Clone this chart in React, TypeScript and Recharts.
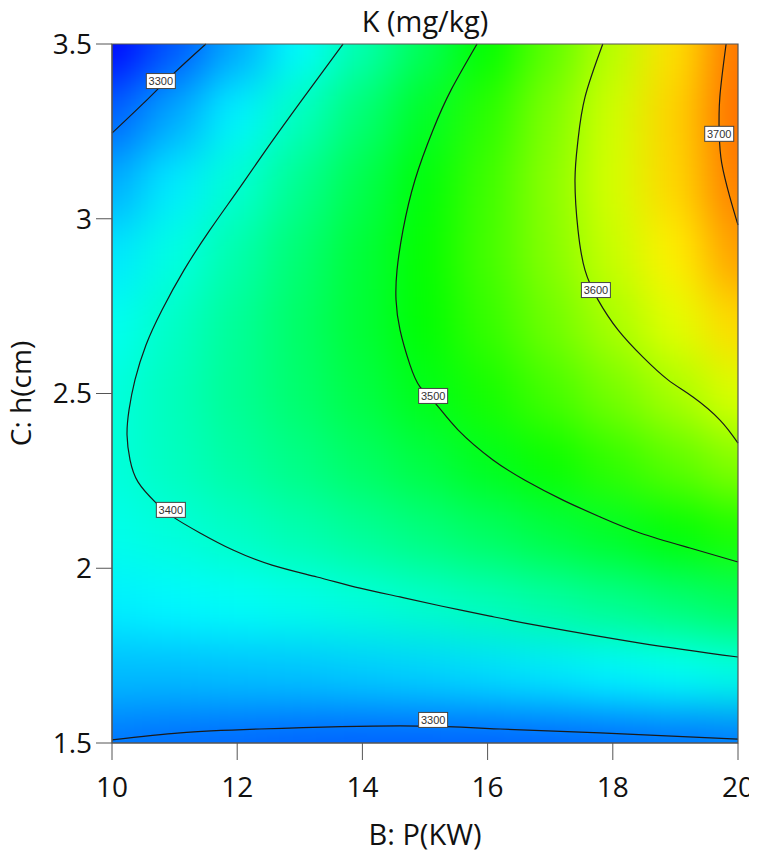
import React from "react";
import {
  ComposedChart,
  Line,
  ReferenceArea,
  ReferenceDot,
  Scatter,
  XAxis,
  YAxis,
} from "recharts";

const FONT = "'Open Sans', 'Noto Sans', sans-serif";

// grid of the colour field: B (kW) columns, C (cm) rows
const pLevels = [10, 11, 12, 13, 14, 15, 16, 17, 18, 19, 20];
const hLevels = [1.5, 1.7, 1.9, 2.1, 2.3, 2.5, 2.7, 2.9, 3.1, 3.3, 3.5];

// K (mg/kg), one row per hLevel
const kAt150 = [3298, 3294, 3291, 3288, 3287, 3287, 3288, 3289, 3292, 3296, 3300];
const kAt170 = [3336, 3336, 3338, 3340, 3344, 3348, 3354, 3360, 3367, 3376, 3385];
const kAt190 = [3364, 3369, 3376, 3383, 3391, 3400, 3410, 3421, 3433, 3446, 3460];
const kAt210 = [3383, 3392, 3403, 3415, 3428, 3442, 3457, 3473, 3489, 3507, 3525];
const kAt230 = [3391, 3406, 3422, 3438, 3456, 3474, 3494, 3514, 3536, 3558, 3581];
const kAt250 = [3390, 3409, 3430, 3451, 3473, 3497, 3521, 3546, 3572, 3599, 3627];
const kAt270 = [3379, 3403, 3428, 3454, 3481, 3509, 3538, 3568, 3599, 3630, 3663];
const kAt290 = [3359, 3387, 3417, 3448, 3479, 3512, 3546, 3580, 3616, 3652, 3690];
const kAt310 = [3328, 3362, 3396, 3432, 3468, 3505, 3543, 3583, 3623, 3664, 3706];
const kAt330 = [3288, 3326, 3366, 3406, 3447, 3489, 3532, 3576, 3620, 3666, 3713];
const kAt350 = [3238, 3281, 3325, 3370, 3415, 3462, 3510, 3558, 3608, 3659, 3710];
const kRows = [kAt150, kAt170, kAt190, kAt210, kAt230, kAt250, kAt270, kAt290, kAt310, kAt330, kAt350];

// contour lines, points as (B, C)
const contour3300Top = [
  { b: 10, c: 3.245 },
  { b: 10.5, c: 3.33 },
  { b: 11.0, c: 3.418 },
  { b: 11.5, c: 3.5 },
];
const contour3400 = [
  { b: 13.69, c: 3.5 },
  { b: 13.035, c: 3.34 },
  { b: 12.46, c: 3.197 },
  { b: 12.013, c: 3.082 },
  { b: 11.565, c: 2.968 },
  { b: 11.15, c: 2.853 },
  { b: 10.799, c: 2.739 },
  { b: 10.543, c: 2.639 },
  { b: 10.367, c: 2.539 },
  { b: 10.272, c: 2.453 },
  { b: 10.24, c: 2.381 },
  { b: 10.288, c: 2.31 },
  { b: 10.415, c: 2.247 },
  { b: 10.687, c: 2.19 },
  { b: 10.974, c: 2.147 },
  { b: 11.406, c: 2.101 },
  { b: 11.933, c: 2.052 },
  { b: 12.556, c: 2.009 },
  { b: 13.275, c: 1.975 },
  { b: 13.962, c: 1.943 },
  { b: 14.601, c: 1.918 },
  { b: 15.256, c: 1.892 },
  { b: 16.038, c: 1.863 },
  { b: 16.837, c: 1.835 },
  { b: 18.435, c: 1.786 },
  { b: 20, c: 1.746 },
];
const contour3500 = [
  { b: 15.831, c: 3.5 },
  { b: 15.415, c: 3.368 },
  { b: 15.128, c: 3.254 },
  { b: 14.84, c: 3.111 },
  { b: 14.649, c: 2.968 },
  { b: 14.553, c: 2.853 },
  { b: 14.537, c: 2.768 },
  { b: 14.601, c: 2.682 },
  { b: 14.76, c: 2.582 },
  { b: 14.92, c: 2.519 },
  { b: 15.16, c: 2.473 },
  { b: 15.527, c: 2.396 },
  { b: 16.086, c: 2.31 },
  { b: 16.597, c: 2.252 },
  { b: 17.204, c: 2.195 },
  { b: 17.796, c: 2.147 },
  { b: 18.435, c: 2.101 },
  { b: 19.233, c: 2.058 },
  { b: 20, c: 2.018 },
];
const contour3600 = [
  { b: 17.84, c: 3.5 },
  { b: 17.556, c: 3.348 },
  { b: 17.444, c: 3.225 },
  { b: 17.396, c: 3.111 },
  { b: 17.444, c: 2.968 },
  { b: 17.556, c: 2.853 },
  { b: 17.764, c: 2.768 },
  { b: 18.083, c: 2.682 },
  { b: 18.482, c: 2.604 },
  { b: 18.882, c: 2.539 },
  { b: 19.281, c: 2.49 },
  { b: 19.712, c: 2.424 },
  { b: 20, c: 2.358 },
];
const contour3700 = [
  { b: 19.81, c: 3.5 },
  { b: 19.71, c: 3.348 },
  { b: 19.7, c: 3.243 },
  { b: 19.74, c: 3.159 },
  { b: 19.87, c: 3.062 },
  { b: 20, c: 2.982 },
];
const contour3300Bottom = [
  { b: 10, c: 1.509 },
  { b: 11.09, c: 1.529 },
  { b: 12.36, c: 1.54 },
  { b: 14.6, c: 1.549 },
  { b: 16.2, c: 1.54 },
  { b: 17.8, c: 1.529 },
  { b: 20, c: 1.511 },
];
const contours = [contour3300Top, contour3400, contour3500, contour3600, contour3700, contour3300Bottom];

const contourLabels = [
  { b: 10.78, c: 3.394, text: "3300" },
  { b: 10.94, c: 2.167, text: "3400" },
  { b: 15.13, c: 2.493, text: "3500" },
  { b: 17.73, c: 2.796, text: "3600" },
  { b: 19.7, c: 3.243, text: "3700" },
  { b: 15.13, c: 1.566, text: "3300" },
];

const xTicks = [10, 12, 14, 16, 18, 20];
const yTicks = [1.5, 2, 2.5, 3, 3.5];

const heatData = hLevels.flatMap((c, i) => pLevels.map((b, j) => ({ b, c, k: kRows[i][j] })));

// plot box inside the svg
const PLOT_X = 104;
const PLOT_Y = 36;
const PLOT_W = 626;
const PLOT_H = 699;
const CELL_W = PLOT_W / (pLevels.length - 1);
const CELL_H = PLOT_H / (hLevels.length - 1);
const PAD = 90;

const colourStops: Array<[number, number[]]> = [
  [3235, [0, 0, 255]],
  [3372, [0, 255, 255]],
  [3510, [0, 255, 0]],
  [3645, [255, 255, 0]],
  [3765, [255, 0, 0]],
];

function kColour(k: number) {
  if (k <= colourStops[0][0]) return `rgb(${colourStops[0][1].join(",")})`;
  for (let i = 1; i < colourStops.length; i++) {
    const [k1, c1] = colourStops[i];
    const [k0, c0] = colourStops[i - 1];
    if (k <= k1) {
      const t = (k - k0) / (k1 - k0);
      const rgb = c0.map((v, n) => Math.round(v + (c1[n] - v) * t));
      return `rgb(${rgb.join(",")})`;
    }
  }
  return `rgb(${colourStops[colourStops.length - 1][1].join(",")})`;
}

function HeatCell(props: any) {
  const { cx, cy, payload } = props;
  if (cx == null || cy == null) return null;
  let x0 = cx - CELL_W / 2 - 1;
  let x1 = cx + CELL_W / 2 + 1;
  let y0 = cy - CELL_H / 2 - 1;
  let y1 = cy + CELL_H / 2 + 1;
  if (payload.b === pLevels[0]) x0 -= PAD;
  if (payload.b === pLevels[pLevels.length - 1]) x1 += PAD;
  if (payload.c === hLevels[0]) y1 += PAD;
  if (payload.c === hLevels[hLevels.length - 1]) y0 -= PAD;
  return <rect x={x0} y={y0} width={x1 - x0} height={y1 - y0} fill={kColour(payload.k)} />;
}

function ContourTag({ cx, cy, text }: { cx: number; cy: number; text: string }) {
  return (
    <g>
      <rect x={cx - 14.5} y={cy - 7.5} width={29} height={15} fill="#fff" stroke="#444" strokeWidth={1} />
      <text x={cx} y={cy + 4} textAnchor="middle" fontSize={11} fill="#333" fontFamily="'Liberation Sans', Arial, sans-serif">
        {text}
      </text>
    </g>
  );
}

export default function App() {
  return (
    <div style={{ position: "relative", width: 749, height: 848, fontFamily: FONT }}>
      <svg width={0} height={0} style={{ position: "absolute" }}>
        <defs>
          <filter id="heatBlur" x="-10%" y="-10%" width="120%" height="120%" colorInterpolationFilters="sRGB">
            <feGaussianBlur stdDeviation="22 24" />
          </filter>
          <clipPath id="plotClip">
            <rect x={PLOT_X} y={PLOT_Y} width={PLOT_W} height={PLOT_H} />
          </clipPath>
        </defs>
      </svg>
      <style>{`.recharts-scatter { filter: url(#heatBlur); clip-path: url(#plotClip); }`}</style>
      <ComposedChart width={749} height={848} margin={{ top: 36, right: 19, bottom: 0, left: 0 }}>
        <XAxis
          type="number"
          dataKey="b"
          domain={[10, 20]}
          ticks={xTicks}
          interval={0}
          height={113}
          tickSize={17}
          tickMargin={17}
          stroke="#555"
          tick={{ fill: "#111", fontSize: 28, fontFamily: FONT }}
          label={{
            content: () => (
              <text x={417} y={837} textAnchor="middle" fontSize={29} fill="#111" fontFamily={FONT}>
                B: P(KW)
              </text>
            ),
          }}
        />
        <YAxis
          type="number"
          dataKey="c"
          domain={[1.5, 3.5]}
          ticks={yTicks}
          interval={0}
          width={104}
          tickSize={16}
          tickMargin={4}
          stroke="#555"
          tick={{ fill: "#111", fontSize: 28, fontFamily: FONT }}
          label={{
            content: () => (
              <text
                x={23}
                y={385.5}
                transform="rotate(-90 23 385.5)"
                textAnchor="middle"
                fontSize={28}
                fill="#111"
                fontFamily={FONT}
              >
                C: h(cm)
              </text>
            ),
          }}
        />
        <Scatter
          data={heatData}
          zIndex={-50}
          isAnimationActive={false}
          shape={(p: any) => <HeatCell {...p} />}
        />
        <ReferenceArea x1={10} x2={20} y1={1.5} y2={3.5} fill="none" stroke="#555" strokeWidth={1.2} zIndex={450} />
        {contours.map((pts, i) => (
          <Line
            key={i}
            data={pts}
            dataKey="c"
            type="natural"
            stroke="#1a1a1a"
            strokeWidth={1.2}
            dot={false}
            activeDot={false}
            isAnimationActive={false}
          />
        ))}
        {contourLabels.map((l, i) => (
          <ReferenceDot
            key={i}
            x={l.b}
            y={l.c}
            r={0}
            zIndex={700}
            ifOverflow="visible"
            shape={(p: any) => <ContourTag cx={p.cx} cy={p.cy} text={l.text} />}
          />
        ))}
      </ComposedChart>
      <div
        style={{
          position: "absolute",
          left: 217,
          top: -2,
          width: 400,
          textAlign: "center",
          fontSize: 29,
          lineHeight: "29px",
          color: "#111",
        }}
      >
        K (mg/kg)
      </div>
    </div>
  );
}
